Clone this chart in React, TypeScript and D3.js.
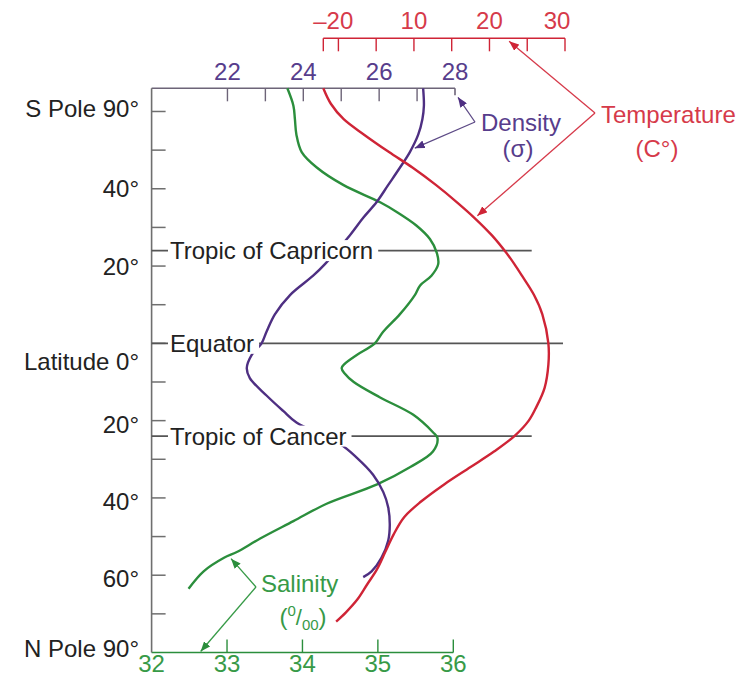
import React, { useLayoutEffect, useRef, useState } from "react";
import * as d3 from "d3";

const W = 755;
const H = 681;
const FONT = "'Liberation Sans', Arial, Helvetica, sans-serif";

// Vertical axis positions (south positive, north negative); polar ends are compressed.
const latTicks = [60, 50, 40, 30, 20, 10, 0, -10, -20, -30, -40, -50, -60, -70];
const latLabelPos = [60, 40, 20, 0, -20, -40, -60, -80];
const latLabelText = ["S Pole 90°", "40°", "20°", "Latitude 0°", "20°", "40°", "60°", "N Pole 90°"];

const refLineNames = ["Tropic of Capricorn", "Equator", "Tropic of Cancer"];
const refLineLat = [24, 0, -24];

const salinityTicks = [32, 33, 34, 35, 36];
const densityTicks = [22, 23, 24, 25, 26, 27, 28];
const densityTickLabels = [22, 24, 26, 28];
const temperatureTicks = [-2, 0, 5, 10, 15, 20, 25, 30];
const temperatureTickLabels = ["–2", "0", "10", "20", "30"];
const temperatureTickLabelValues = [-2, 0, 10, 20, 30];

// Surface salinity (‰) by latitude position
const salinityLat = [66, 61.5, 58, 54, 49.5, 45.5, 41, 36.5, 34, 30.5, 27, 23.5, 20.5, 17.5, 15, 12.5, 7.5, 3, 0, -3, -5.3, -6.4, -7.8, -10, -14, -18.5, -23, -24.5, -28, -32, -36.5, -41.5, -46, -50.5, -54, -55.5, -59, -63.5];
const salinityVal = [33.8, 33.88, 33.9, 33.92, 33.99, 34.19, 34.54, 35.03, 35.25, 35.51, 35.69, 35.78, 35.8, 35.71, 35.56, 35.49, 35.29, 35.07, 34.96, 34.72, 34.56, 34.52, 34.56, 34.68, 35.03, 35.47, 35.73, 35.79, 35.73, 35.43, 34.99, 34.32, 33.88, 33.44, 33.13, 32.96, 32.69, 32.49];

// Surface temperature (°C) by latitude position
const temperatureLat = [66, 62, 58, 54, 49.5, 45.5, 41, 36.5, 32.5, 28, 23.5, 20.5, 17.5, 12.5, 7.5, 0, -5.5, -11.5, -16.5, -20, -24, -28, -32, -36.5, -41, -45, -49.5, -54, -58.5, -62.4, -66.3, -69.6, -72];
const temperatureVal = [-2.0, -1.0, 0.7, 3.4, 6.7, 9.8, 12.9, 15.7, 18.0, 20.3, 22.2, 23.3, 24.3, 25.9, 27.0, 27.8, 27.8, 27.3, 26.2, 25.2, 23.3, 20.6, 17.5, 14.0, 10.9, 8.7, 7.3, 6.2, 5.1, 3.8, 2.5, 1.0, -0.3];

// Surface density (σ) by latitude position
const densityLat = [66, 61.5, 58, 54, 49.5, 45.5, 41, 36.5, 32.5, 28, 20.5, 17.5, 12.5, 7.5, 3, 0, -3, -6.4, -9, -13.5, -17.5, -20.5, -26, -29.5, -34, -38.5, -42.5, -47, -51, -55.5, -59, -60.5];
const densityVal = [27.16, 27.18, 27.14, 27.03, 26.81, 26.55, 26.24, 25.93, 25.58, 25.23, 24.57, 24.26, 23.65, 23.25, 23.03, 22.9, 22.64, 22.51, 22.59, 23.03, 23.47, 23.82, 24.96, 25.4, 25.84, 26.11, 26.24, 26.28, 26.24, 26.06, 25.8, 25.58];

const C_RED = "#cf2436";
const C_RED_TXT = "#d63a4a";
const C_PURPLE = "#4e2f82";
const C_PURPLE_TXT = "#573d8c";
const C_GREEN = "#2b8e3c";
const C_GREEN_TXT = "#379a47";
const C_AXIS = "#6f6f6f";
const C_TEXT = "#222";

export default function App() {
  const yLat = d3.scaleLinear().domain([66, -80]).range([88.3, 652.5]);
  const xSal = d3.scaleLinear().domain([32, 36]).range([151.6, 453.3]);
  const xDen = d3.scaleLinear().domain([20, 28]).range([151.6, 455]);
  const xTemp = d3.scaleLinear().domain([-2, 30]).range([323.3, 565]);

  const axisX = xSal(32);
  const topY = yLat(66);
  const bottomY = yLat(-80);
  const tempAxisY = 38.3;

  const makeLine = (vals: number[], lats: number[], xs: d3.ScaleLinear<number, number>) =>
    d3
      .line<number>()
      .x((v) => xs(v))
      .y((_, i) => yLat(lats[i]))
      .curve(d3.curveCatmullRom.alpha(0.5))(vals) || "";

  const salPath = makeLine(salinityVal, salinityLat, xSal);
  const tempPath = makeLine(temperatureVal, temperatureLat, xTemp);
  const denPath = makeLine(densityVal, densityLat, xDen);

  const labelRefs = useRef<(SVGTextElement | null)[]>([]);
  const [labelW, setLabelW] = useState<number[]>([0, 0, 0]);
  useLayoutEffect(() => {
    setLabelW(labelRefs.current.map((t) => (t ? t.getComputedTextLength() : 0)));
  }, []);

  const refLineEnd = [531.7, 563, 531.7];
  const textX = 170;

  // annotation anchors on the curves
  const denTip = { x: xDen(26.86) + 3, y: yLat(50.5) };
  const tempTip = { x: xTemp(18.0) + 3, y: yLat(33) };
  const salTip = { x: xSal(33.0) + 4, y: yLat(-55.2) + 2 };

  const marker = (id: string, color: string) => (
    <marker
      id={id}
      viewBox="0 0 10 8"
      refX={10}
      refY={4}
      markerWidth={10}
      markerHeight={8}
      markerUnits="userSpaceOnUse"
      orient="auto"
    >
      <path d="M0,0 L10,4 L0,8 Z" fill={color} />
    </marker>
  );

  return (
    <svg
      width={W}
      height={H}
      viewBox={`0 0 ${W} ${H}`}
      style={{ position: "absolute", left: 0, top: 0, background: "#fff" }}
      fontFamily={FONT}
    >
      <defs>
        {marker("arrRed", C_RED)}
        {marker("arrPurple", C_PURPLE)}
        {marker("arrGreen", C_GREEN)}
      </defs>

      {/* Temperature axis (top) */}
      <g>
        <line x1={xTemp(-2)} x2={xTemp(30)} y1={tempAxisY} y2={tempAxisY} stroke={C_RED} strokeWidth={1.5} />
        {temperatureTicks.map((t) => (
          <line key={t} x1={xTemp(t)} x2={xTemp(t)} y1={tempAxisY} y2={tempAxisY + 13} stroke={C_RED} strokeWidth={1.4} />
        ))}
        {temperatureTickLabels.map((lab, i) => {
          const v = temperatureTickLabelValues[i];
          let x = xTemp(v);
          let anchor: "start" | "middle" | "end" = "middle";
          if (v === -2) { x = xTemp(0) + 1.5; anchor = "end"; }
          else if (v === 0) { x = xTemp(0) + 1.5; anchor = "start"; }
          else if (v === 30) { x = x - 8; }
          return (
            <text key={lab} x={x} y={29} textAnchor={anchor} fontSize={24} fill={C_RED_TXT}>
              {lab}
            </text>
          );
        })}
      </g>

      {/* Density axis (frame top) */}
      <g>
        <line x1={axisX} x2={xDen(28)} y1={topY} y2={topY} stroke="#6d6478" strokeWidth={1.6} />
        <line x1={xDen(28)} x2={xDen(28)} y1={topY} y2={topY + 7} stroke="#6d6478" strokeWidth={1.6} />
        {densityTicks.filter((t) => t < 28).map((t) => (
          <line key={t} x1={xDen(t)} x2={xDen(t)} y1={topY} y2={topY + 13} stroke="#6d6478" strokeWidth={1.4} />
        ))}
        {densityTickLabels.map((t) => (
          <text key={t} x={xDen(t)} y={80} textAnchor="middle" fontSize={24} fill={C_PURPLE_TXT}>
            {t}
          </text>
        ))}
      </g>

      {/* Salinity axis (bottom) */}
      <g>
        <line x1={axisX} x2={xSal(36)} y1={bottomY} y2={bottomY} stroke={C_GREEN} strokeWidth={1.5} />
        {salinityTicks.filter((t) => t > 32).map((t) => (
          <line key={t} x1={xSal(t)} x2={xSal(t)} y1={bottomY} y2={bottomY - 13} stroke={C_GREEN} strokeWidth={1.4} />
        ))}
        {salinityTicks.map((t) => (
          <text key={t} x={xSal(t)} y={672} textAnchor="middle" fontSize={24} fill={C_GREEN_TXT}>
            {t}
          </text>
        ))}
      </g>

      {/* Latitude axis (left) */}
      <g>
        <line x1={axisX} x2={axisX} y1={topY} y2={bottomY} stroke={C_AXIS} strokeWidth={1.6} />
        {latTicks.map((t) => (
          <line key={t} x1={axisX} x2={axisX + 14} y1={yLat(t)} y2={yLat(t)} stroke={C_AXIS} strokeWidth={1.5} />
        ))}
        {latLabelPos.map((p, i) => {
          let dy = 8.5;
          if (p === 60) dy = 5.8;
          else if (p === 0) dy = 26.5;
          else if (p < 0 && p > -80) dy = 12;
          else if (p === -80) dy = 4.5;
          return (
            <text key={i} x={139} y={yLat(p) + dy} textAnchor="end" fontSize={24} fill={C_TEXT}>
              {latLabelText[i]}
            </text>
          );
        })}
      </g>

      {/* Tropic and equator lines */}
      {refLineNames.map((n, i) => (
        <line
          key={n}
          x1={axisX}
          x2={refLineEnd[i]}
          y1={yLat(refLineLat[i])}
          y2={yLat(refLineLat[i])}
          stroke="#555"
          strokeWidth={1.8}
        />
      ))}

      {/* Property curves */}
      <path d={salPath} fill="none" stroke={C_GREEN} strokeWidth={2.4} />
      <path d={denPath} fill="none" stroke={C_PURPLE} strokeWidth={2.4} />
      <path d={tempPath} fill="none" stroke={C_RED} strokeWidth={2.4} />

      {/* Reference line labels on white plates */}
      {refLineNames.map((n, i) => {
        const y = yLat(refLineLat[i]) + 8.5;
        return (
          <g key={n}>
            <rect x={textX - 2} y={y - 19} width={labelW[i] + 7} height={21} fill="#fff" />
            <text
              ref={(el) => { labelRefs.current[i] = el; }}
              x={textX}
              y={y}
              fontSize={24}
              fill={C_TEXT}
            >
              {n}
            </text>
          </g>
        );
      })}

      {/* Density annotation */}
      <g stroke="#5d4a86" strokeWidth={1.3} fill="none">
        <line x1={475} y1={122} x2={xDen(28) + 3} y2={topY + 9} markerEnd="url(#arrPurple)" />
        <line x1={475} y1={122} x2={denTip.x} y2={denTip.y} markerEnd="url(#arrPurple)" />
      </g>
      <text x={481} y={131} fontSize={24} fill={C_PURPLE_TXT}>Density</text>
      <text x={518} y={157} fontSize={24} fill={C_PURPLE_TXT} textAnchor="middle">(σ)</text>

      {/* Temperature annotation */}
      <g stroke={C_RED_TXT} strokeWidth={1.3} fill="none">
        <line x1={595} y1={113} x2={xTemp(22.6)} y2={tempAxisY + 3} markerEnd="url(#arrRed)" />
        <line x1={595} y1={113} x2={tempTip.x} y2={tempTip.y} markerEnd="url(#arrRed)" />
      </g>
      <text x={601} y={123} fontSize={24} fill={C_RED_TXT}>Temperature</text>
      <text x={657} y={157} fontSize={24} fill={C_RED_TXT} textAnchor="middle">(C°)</text>

      {/* Salinity annotation */}
      <g stroke={C_GREEN_TXT} strokeWidth={1.3} fill="none">
        <line x1={256} y1={587} x2={salTip.x} y2={salTip.y} markerEnd="url(#arrGreen)" />
        <line x1={256} y1={587} x2={xSal(32.65)} y2={bottomY - 1} markerEnd="url(#arrGreen)" />
      </g>
      <text x={261} y={592} fontSize={24} fill={C_GREEN_TXT}>Salinity</text>
      <text x={303} y={625} fontSize={24} fill={C_GREEN_TXT} textAnchor="middle">
        (<tspan fontSize={15} dy={-9}>0</tspan>
        <tspan fontSize={22} dy={9}>/</tspan>
        <tspan fontSize={15} dy={5}>00</tspan>
        <tspan dy={-5}>)</tspan>
      </text>
    </svg>
  );
}
